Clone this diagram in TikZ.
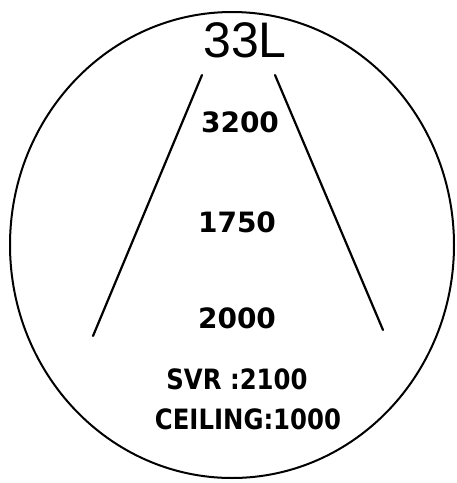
\documentclass[tikz,border=0pt]{standalone}
\usepackage{fontspec}
\setmainfont{Liberation Sans}
\newfontfamily\boldlbl{DejaVu Sans}
\tikzset{
  lbl/.style={font=\boldlbl\bfseries\fontsize{28}{32}\selectfont, inner sep=0pt, xscale=1.0},
  wlbl/.style={lbl, xscale=0.87},
  ttl/.style={font=\fontsize{50}{56}\selectfont, inner sep=0pt},
  edge/.style={line width=2.2pt, line cap=round}
}
\begin{document}
\begin{tikzpicture}[x=1pt,y=-1pt]
\useasboundingbox (0,0) rectangle (457,483);
\fill[white] (0,0) rectangle (457,483);
\draw[line width=2pt] (232,245) ellipse [x radius=222, y radius=233];
\node[ttl] (rwy) at (245,40) {33L};
\coordinate (l1) at (202,75);
\coordinate (l2) at (93,336);
\coordinate (r1) at (275,75);
\coordinate (r2) at (383,330);
\draw[edge] (l1) -- (l2);
\draw[edge] (r1) -- (r2);
\node[lbl] (a) at (240,122) {3200};
\node[lbl] (b) at (237,222) {1750};
\node[lbl] (c) at (237,318) {2000};
\node[wlbl] (svr) at (237,379) {SVR :2100};
\node[wlbl] (ceil) at (248,419) {CEILING:1000};
\end{tikzpicture}
\end{document}
